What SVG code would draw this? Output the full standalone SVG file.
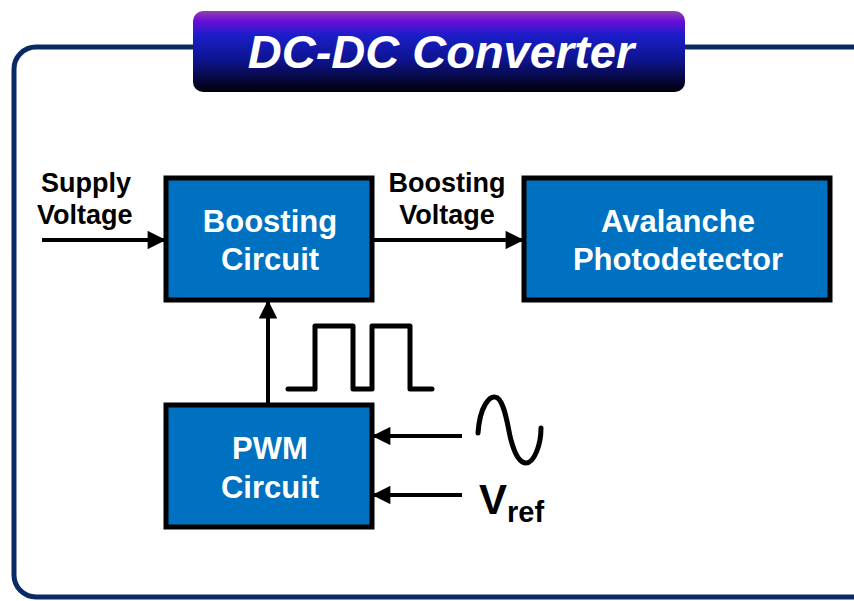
<svg xmlns="http://www.w3.org/2000/svg" width="854" height="601" viewBox="0 0 854 601">
<defs>
<linearGradient id="tg" x1="0" y1="0" x2="0" y2="1">
<stop offset="0" stop-color="#8e44a8"/>
<stop offset="0.12" stop-color="#6a0ed8"/>
<stop offset="0.3" stop-color="#1a1ec8"/>
<stop offset="0.6" stop-color="#0e1490"/>
<stop offset="1" stop-color="#000008"/>
</linearGradient>
<marker id="ah" viewBox="0 0 10 10" refX="10" refY="5" markerWidth="5" markerHeight="4.6" markerUnits="strokeWidth" orient="auto">
<path d="M0,0 L10,5 L0,10 Z" fill="#000"/>
</marker>
<style>
.blk{fill:#0070c0;stroke:#000;stroke-width:5}
.bt{font-family:"Liberation Sans",Arial,sans-serif;font-weight:bold;font-size:31px;fill:#fff;text-anchor:middle}
.lb{font-family:"Liberation Sans",Arial,sans-serif;font-weight:bold;font-size:27px;fill:#000}
.ln{stroke:#000;stroke-width:4;fill:none}
.wv{stroke:#000;stroke-width:5;fill:none;stroke-linecap:round;stroke-linejoin:round}
</style>
</defs>
<rect x="0" y="0" width="854" height="601" fill="#fff"/>
<g id="frame">
<rect x="14" y="47" width="860" height="550" rx="22" ry="22" fill="none" stroke="#0a2a66" stroke-width="5"/>
</g>
<g id="title">
<rect x="193" y="11" width="492" height="81" rx="10" ry="10" fill="url(#tg)"/>
<text x="441" y="68" font-family="Liberation Sans,Arial,sans-serif" font-weight="bold" font-style="italic" font-size="47" fill="#fff" text-anchor="middle">DC-DC Converter</text>
</g>
<g id="boosting">
<rect class="blk" x="166" y="178" width="206" height="122"/>
<text class="bt" x="270" y="232">Boosting</text>
<text class="bt" x="270" y="270">Circuit</text>
</g>
<g id="apd">
<rect class="blk" x="524" y="178" width="306" height="122"/>
<text class="bt" x="678" y="232">Avalanche</text>
<text class="bt" x="678" y="270">Photodetector</text>
</g>
<g id="pwm">
<rect class="blk" x="166" y="405" width="206" height="122"/>
<text class="bt" x="270" y="459">PWM</text>
<text class="bt" x="270" y="498">Circuit</text>
</g>
<g id="connectors">
<line class="ln" x1="42" y1="240" x2="166" y2="240" marker-end="url(#ah)"/>
<line class="ln" x1="372" y1="240" x2="524" y2="240" marker-end="url(#ah)"/>
<line class="ln" x1="268" y1="405" x2="268" y2="300" marker-end="url(#ah)"/>
<line class="ln" x1="462" y1="436" x2="372" y2="436" marker-end="url(#ah)"/>
<line class="ln" x1="462" y1="495" x2="372" y2="495" marker-end="url(#ah)"/>
</g>
<g id="labels">
<text class="lb" x="41" y="192">Supply</text>
<text class="lb" x="37" y="224">Voltage</text>
<text class="lb" x="447" y="192" text-anchor="middle">Boosting</text>
<text class="lb" x="447" y="224" text-anchor="middle">Voltage</text>
<text font-family="Liberation Sans,Arial,sans-serif" font-weight="bold" font-size="42" fill="#000" x="479" y="514">V<tspan font-size="29" dy="8">ref</tspan></text>
</g>
<g id="waves">
<path class="wv" d="M288,389 H315 V326 H353 V389 H372 V326 H410 V389 H432"/>
<path class="wv" d="M478,433 C480,405 490,396 495,397 C505,398 508,430 511,440 C515,455 520,463 526,463 C534,463 541,445 541,428"/>
</g>
</svg>
